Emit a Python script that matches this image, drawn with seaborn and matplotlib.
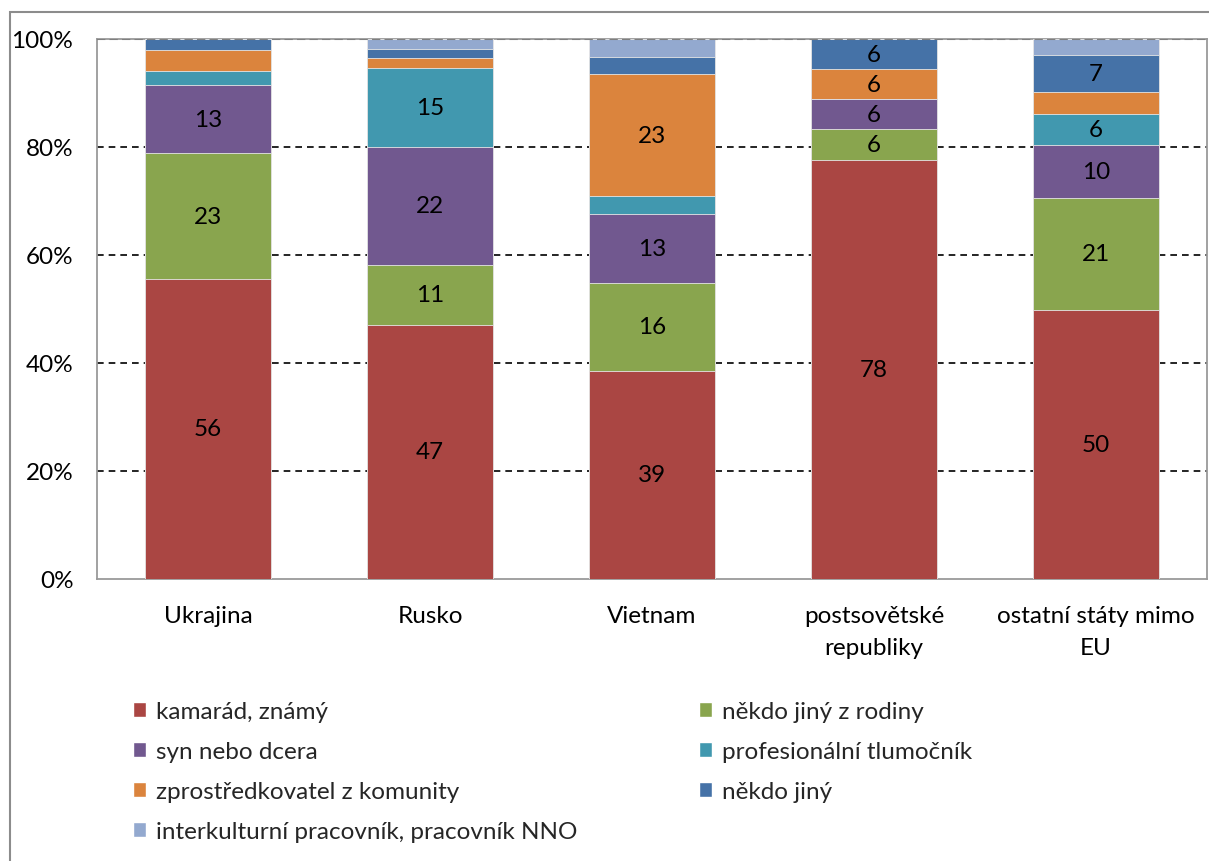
import numpy as np
import pandas as pd
import matplotlib
matplotlib.use("Agg")
import matplotlib.pyplot as plt
from matplotlib.patches import Patch, Rectangle
import seaborn as sns

# Origin groups
categories = ["Ukrajina", "Rusko", "Vietnam", "postsovětské\nrepubliky", "ostatní státy mimo\nEU"]

# Share of each type of interpreter (%), stacked bottom to top
kamarad = [55.6, 47.1, 38.6, 77.6, 49.9]
rodina = [23.2, 11.1, 16.2, 5.7, 20.7]
syn_dcera = [12.6, 21.8, 12.8, 5.5, 9.7]
tlumocnik = [2.7, 14.6, 3.3, 0.0, 5.9]
zprostredkovatel = [3.9, 1.8, 22.6, 5.6, 3.9]
nekdo_jiny = [2.0, 1.7, 3.2, 5.6, 6.9]
nno = [0.0, 1.9, 3.3, 0.0, 3.0]

series_names = [
    "kamarád, známý",
    "někdo jiný z rodiny",
    "syn nebo dcera",
    "profesionální tlumočník",
    "zprostředkovatel z komunity",
    "někdo jiný",
    "interkulturní pracovník, pracovník NNO",
]
series_values = [kamarad, rodina, syn_dcera, tlumocnik, zprostredkovatel, nekdo_jiny, nno]
series_colors = ["#AA4643", "#89A54E", "#71588F", "#4198AF", "#DB843D", "#4572A7", "#93A9CF"]

y_ticks = [0, 20, 40, 60, 80, 100]
y_tick_labels = ["0%", "20%", "40%", "60%", "80%", "100%"]

sns.set_theme(style="white")
plt.rcParams["font.family"] = ["Lato", "DejaVu Sans"]

FS = 17.5
W, H = 1209, 862
fig = plt.figure(figsize=(W / 100, H / 100), dpi=100)
ax = fig.add_axes([97 / W, 1 - 580 / H, (1207 - 97) / W, (580 - 40) / H])

# long table with cumulative tops for each segment
vals = np.array(series_values, dtype=float)
tops = np.cumsum(vals, axis=0)
rows = []
for si, name in enumerate(series_names):
    for ci, cat in enumerate(categories):
        rows.append({"cat": cat, "series": name, "value": vals[si, ci],
                     "top": tops[si, ci], "bottom": tops[si, ci] - vals[si, ci]})
df = pd.DataFrame(rows)

# draw stacked segments: overlay cumulative totals from the top series down
for si in range(len(series_names) - 1, -1, -1):
    sub = df[df["series"] == series_names[si]]
    sns.barplot(data=sub, x="cat", y="top", order=categories, color=series_colors[si],
                width=0.57, saturation=1, edgecolor="#e6e6e6", linewidth=0.6,
                ax=ax, zorder=3)

# value labels on segments large enough to hold them
for _, r in df.iterrows():
    if r["value"] >= 5:
        ci = categories.index(r["cat"])
        ax.text(ci, (r["top"] + r["bottom"]) / 2, f"{round(r['value'])}",
                ha="center", va="center", fontsize=FS, color="black", zorder=5)

ax.set_ylim(0, 100)
ax.set_xlim(-0.5, len(categories) - 0.5)
ax.set_yticks(y_ticks)
ax.set_yticklabels(y_tick_labels)
ax.set_xlabel("")
ax.set_ylabel("")
ax.tick_params(axis="y", length=0, pad=17, labelsize=FS, labelcolor="black")
ax.tick_params(axis="x", length=0, pad=19, labelsize=FS, labelcolor="black")
for lab in ax.get_xticklabels():
    lab.set_linespacing(1.65)
    lab.set_verticalalignment("top")

for y in [20, 40, 60, 80]:
    ax.axhline(y, color="black", linestyle=(0, (4, 3)), linewidth=1.2, zorder=1)
ax.axhline(100, color="#7f7f7f", linestyle=(0, (4, 2)), linewidth=1.5, zorder=6)

for side in ["left", "bottom", "right", "top"]:
    ax.spines[side].set_visible(True)
    ax.spines[side].set_color("#9a9a9a")
    ax.spines[side].set_linewidth(1.3)

# legend in two columns
order_left = [0, 2, 4, 6]
order_right = [1, 3, 5]
common = dict(frameon=False, fontsize=FS, handlelength=0.55, handleheight=0.55,
              handletextpad=0.4, labelspacing=0.78, borderaxespad=0, borderpad=0)
leg1 = fig.legend(handles=[Patch(facecolor=series_colors[i], label=series_names[i]) for i in order_left],
                  loc="upper left", bbox_to_anchor=(133 / W, 1 - 702 / H), **common)
leg2 = fig.legend(handles=[Patch(facecolor=series_colors[i], label=series_names[i]) for i in order_right],
                  loc="upper left", bbox_to_anchor=(699 / W, 1 - 702 / H), **common)

# outer chart frame
fig.add_artist(Rectangle((10 / W, -0.05), 1.2, 1 - 13 / H + 0.05, transform=fig.transFigure,
                         fill=False, edgecolor="#8c8c8c", linewidth=1.5))

fig.savefig("out.png", dpi=100)
